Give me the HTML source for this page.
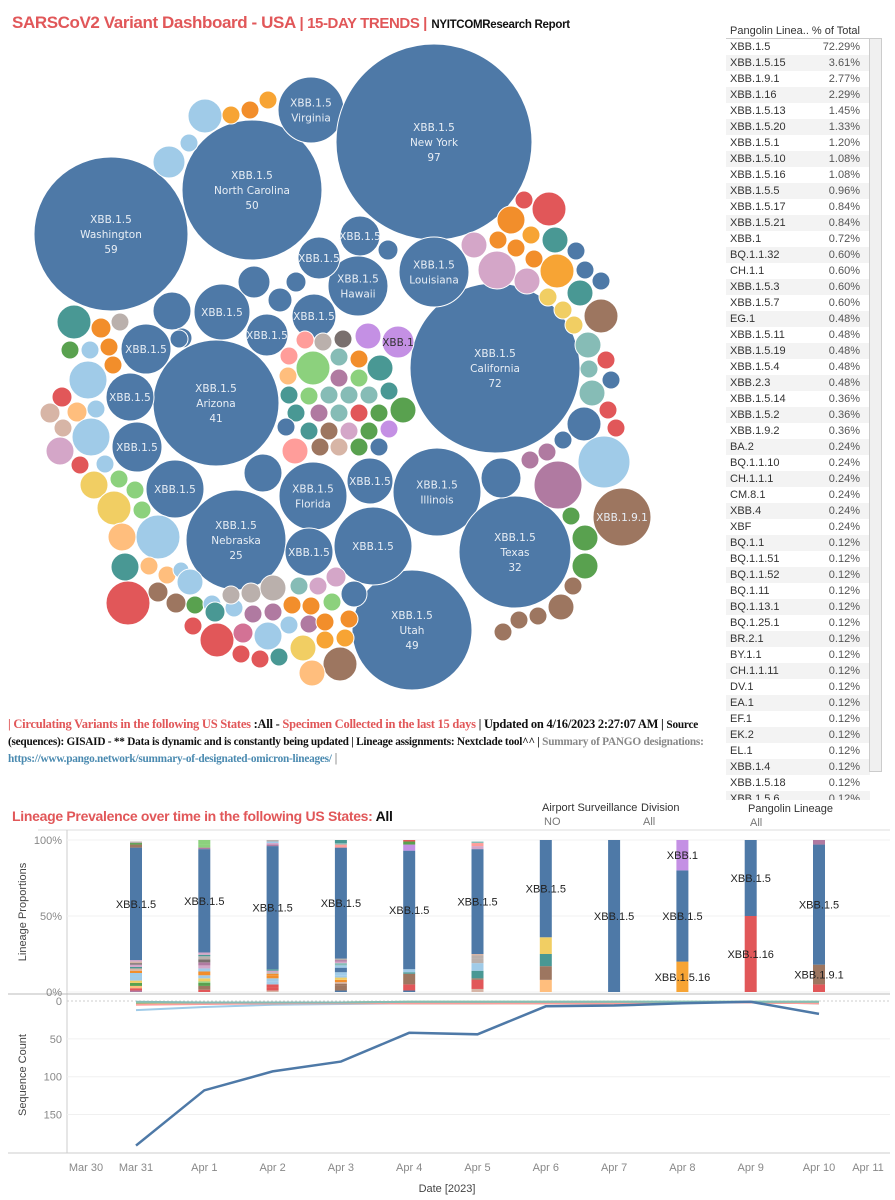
<!DOCTYPE html>
<html><head><meta charset="utf-8">
<style>
body{margin:0;width:895px;height:1200px;background:#fff;font-family:"Liberation Sans",sans-serif;position:relative;overflow:hidden}
.abs{position:absolute}
#title{left:12px;top:13px;font-size:17px;font-weight:bold;color:#e15759;white-space:nowrap;letter-spacing:-0.4px}
#title .small{font-size:15px}
#title .blk{color:#111;font-size:11.5px;letter-spacing:-0.3px}
#tbl{left:726px;top:24px;width:155px;font-size:11px;color:#333;height:776px;overflow:hidden}
.row{height:16px;line-height:16px;display:flex;justify-content:space-between;padding:0 10px 0 4px;width:130px}
.row:nth-child(even){background:#f3f3f3}
.row span:last-child{color:#555}
#info{left:8px;top:716px;width:730px;font-family:"Liberation Serif",serif;font-weight:bold;font-size:12.5px;line-height:16px;color:#111;letter-spacing:-0.25px;white-space:nowrap}
.red{color:#e15759}.gr{color:#888}
a{color:#4a8ab0}
.flab{font-size:11px;color:#333}
.fval{font-size:11px;color:#777}
</style></head><body>
<div id="title" class="abs">SARSCoV2 Variant Dashboard - USA <span class="small">| 15-DAY TRENDS |</span> <span class="blk">NYITCOMResearch Report</span></div>

<svg id="bubbles" class="abs" style="left:0;top:0" width="720" height="700"></svg>

<div id="tbl" class="abs">
<div style="display:flex;justify-content:space-between;width:130px;padding:0 10px 0 4px;height:14px;line-height:14px;border-bottom:1px solid #ccc"><span>Pangolin Linea..</span><span>% of Total</span></div>
<div id="rows"></div>
</div>
<div class="abs" style="left:869px;top:38px;width:11px;height:732px;background:#f0f0f0;border:1px solid #ccc"></div>

<div id="info" class="abs"><span class="red">| Circulating Variants in the following US States</span> :All - <span class="red">Specimen Collected in the last 15 days</span> | Updated on 4/16/2023 2:27:07 AM | <span style="font-size:11.3px">Source</span><br><span style="font-size:11.3px">(sequences): GISAID - ** Data is dynamic and is constantly being updated | Lineage assignments: Nextclade tool^^ | <span class="gr">Summary of PANGO designations:</span></span><br><a style="font-size:11.3px">https://www.pango.network/summary-of-designated-omicron-lineages/</a> <span class="gr">|</span></div>

<div class="abs" style="left:12px;top:808px;font-size:14px;font-weight:bold;color:#e15759;letter-spacing:-0.3px">Lineage Prevalence over time in the following US States: <span style="color:#111">All</span></div>
<div class="abs flab" style="left:542px;top:802px">Airport Surveillance</div>
<div class="abs fval" style="left:544px;top:816px">NO</div>
<div class="abs flab" style="left:641px;top:802px">Division</div>
<div class="abs fval" style="left:643px;top:816px">All</div>
<div class="abs flab" style="left:748px;top:803px">Pangolin Lineage</div>
<div class="abs fval" style="left:750px;top:817px">All</div>

<svg id="charts" class="abs" style="left:0;top:0" width="895" height="1200"></svg>

<script>
const tableNames=["XBB.1.5","XBB.1.5.15","XBB.1.9.1","XBB.1.16","XBB.1.5.13","XBB.1.5.20","XBB.1.5.1","XBB.1.5.10","XBB.1.5.16","XBB.1.5.5","XBB.1.5.17","XBB.1.5.21","XBB.1","BQ.1.1.32","CH.1.1","XBB.1.5.3","XBB.1.5.7","EG.1","XBB.1.5.11","XBB.1.5.19","XBB.1.5.4","XBB.2.3","XBB.1.5.14","XBB.1.5.2","XBB.1.9.2","BA.2","BQ.1.1.10","CH.1.1.1","CM.8.1","XBB.4","XBF","BQ.1.1","BQ.1.1.51","BQ.1.1.52","BQ.1.11","BQ.1.13.1","BQ.1.25.1","BR.2.1","BY.1.1","CH.1.1.11","DV.1","EA.1","EF.1","EK.2","EL.1","XBB.1.4","XBB.1.5.18","XBB.1.5.6"];
const tablePct=["72.29%","3.61%","2.77%","2.29%","1.45%","1.33%","1.20%","1.08%","1.08%","0.96%","0.84%","0.84%","0.72%","0.60%","0.60%","0.60%","0.60%","0.48%","0.48%","0.48%","0.48%","0.48%","0.36%","0.36%","0.36%","0.24%","0.24%","0.24%","0.24%","0.24%","0.24%","0.12%","0.12%","0.12%","0.12%","0.12%","0.12%","0.12%","0.12%","0.12%","0.12%","0.12%","0.12%","0.12%","0.12%","0.12%","0.12%","0.12%"];
const rowsEl=document.getElementById('rows');
tableNames.forEach((n,i)=>{
  const r=document.createElement('div');r.className='row';
  
  
  r.innerHTML='<span>'+n+'</span><span>'+tablePct[i]+'</span>';
  rowsEl.appendChild(r);
});
</script>

<script>
const C={b:"#4e79a7",lb:"#a0cbe8",o:"#f28e2b",lo:"#ffbe7d",g:"#59a14f",lg:"#8cd17d",y:"#f1ce63",t:"#499894",lt:"#86bcb6",r:"#e15759",lr:"#ff9d9a",gy:"#79706e",lgy:"#bab0ac",p:"#d37295",m:"#b07aa1",lm:"#d4a6c8",br:"#9d7660",lbr:"#d7b5a6",li:"#c490e4",oy:"#f7a434"};
const bubbleX=[111,252,311,434,495,434,358,216,437,515,412,236,313,222,267,314,146,130,137,175,370,373,309,360,319,254,280,296,172,182,263,501,388,179,
74,101,120,70,90,109,113,88,62,50,77,96,63,91,60,80,105,94,119,135,114,142,122,158,125,149,167,181,190,128,158,176,195,212,215,193,217,243,268,241,260,279,234,253,273,289,309,231,251,273,299,318,336,332,292,311,325,349,325,345,303,340,312,354,
305,323,343,368,398,289,313,339,359,380,288,339,359,289,309,329,349,369,389,403,296,319,339,359,379,286,309,329,349,369,389,295,320,339,359,379,
524,549,511,474,498,516,531,534,555,576,497,527,557,585,601,580,548,563,601,574,588,606,589,611,592,608,616,584,563,604,530,547,558,622,571,585,585,573,561,538,519,503,
205,231,250,268,189,169];
const bubbleY=[234,190,110,142,368,272,286,403,492,552,630,540,496,312,335,316,349,397,447,489,481,546,552,236,258,282,300,282,311,338,473,478,250,339,
322,328,322,350,350,347,365,380,397,413,412,409,428,437,451,465,464,485,479,490,508,510,537,537,567,566,575,570,582,603,592,603,605,604,612,626,640,633,636,654,659,657,608,614,612,625,624,595,593,588,586,586,577,602,605,606,622,619,640,638,648,664,673,594,
340,342,339,336,342,356,368,357,359,368,376,378,378,395,396,395,395,395,391,410,413,413,413,413,413,427,431,431,431,431,429,451,447,447,447,447,
200,209,220,245,240,248,235,259,240,251,270,281,271,270,281,293,297,310,316,325,345,360,369,380,393,410,428,424,440,462,460,452,485,517,516,538,566,586,607,616,620,632,
116,115,110,100,143,162];
const bubbleR=[77,70,33,98,85,35,30,63,44,56,60,50,34,28,21,22,25,24,25,29,23,39,24,20,21,16,12,10,19,10,19,20,10,9,
17,10,9,9,9,9,9,19,10,10,10,9,9,19,14,9,9,14,9,9,17,9,14,22,14,9,9,8,13,22,10,10,9,9,10,9,17,10,14,9,9,9,9,9,9,9,9,9,10,13,9,9,10,9,9,9,9,9,9,9,13,17,13,13,
9,9,9,13,16,9,17,9,9,13,9,9,9,9,9,9,9,9,9,13,9,9,9,9,9,9,9,9,9,9,9,13,9,9,9,9,
9,17,14,13,9,9,9,9,13,9,19,13,17,9,9,13,9,9,17,9,13,9,9,9,13,9,9,17,9,26,9,9,24,29,9,13,13,9,13,9,9,9,
17,9,9,9,9,16];
const bubbleCol=["b","b","b","b","b","b","b","b","b","b","b","b","b","b","b","b","b","b","b","b","b","b","b","b","b","b","b","b","b","b","b","b","b","b",
"t","o","lgy","g","lb","o","o","lb","r","lbr","lo","lb","lbr","lb","lm","r","lb","y","lg","lg","y","lg","lo","lb","t","lo","lo","lb","lb","r","br","br","g","lb","t","r","r","p","lb","r","r","t","lb","m","m","lb","m","lgy","lgy","lgy","lt","lm","lm","lg","o","o","o","o","oy","oy","y","br","lo","b",
"lr","lgy","gy","li","li","lr","lg","lt","o","t","lo","m","lg","t","lg","lt","lt","lt","t","g","t","m","lt","r","g","b","t","br","lm","g","li","lr","br","lbr","g","b",
"r","r","o","lm","o","o","oy","o","t","b","lm","lm","oy","b","b","t","y","y","br","y","lt","r","lt","b","lt","r","r","b","b","lb","m","m","m","br","g","g","g","br","br","br","br","br",
"lb","oy","o","oy","lb","lb"];
const bubbleLabel={0:["XBB.1.5","Washington","59"],1:["XBB.1.5","North Carolina","50"],2:["XBB.1.5","Virginia"],3:["XBB.1.5","New York","97"],4:["XBB.1.5","California","72"],5:["XBB.1.5","Louisiana"],6:["XBB.1.5","Hawaii"],7:["XBB.1.5","Arizona","41"],8:["XBB.1.5","Illinois"],9:["XBB.1.5","Texas","32"],10:["XBB.1.5","Utah","49"],11:["XBB.1.5","Nebraska","25"],12:["XBB.1.5","Florida"],13:["XBB.1.5"],14:["XBB.1.5"],15:["XBB.1.5"],16:["XBB.1.5"],17:["XBB.1.5"],18:["XBB.1.5"],19:["XBB.1.5"],20:["XBB.1.5"],21:["XBB.1.5"],22:["XBB.1.5"],23:["XBB.1.5"],24:["XBB.1.5"]};
bubbleLabel[bubbleX.findIndex((x,i)=>x==398&&bubbleY[i]==342)]=["XBB.1"];
bubbleLabel[bubbleX.findIndex((x,i)=>x==622&&bubbleY[i]==517)]=["XBB.1.9.1"];
const NS="http://www.w3.org/2000/svg";
const bs=document.getElementById('bubbles');
bubbleX.forEach((x,i)=>{
  const c=document.createElementNS(NS,'circle');
  c.setAttribute('cx',x);c.setAttribute('cy',bubbleY[i]);c.setAttribute('r',bubbleR[i]);
  c.setAttribute('fill',C[bubbleCol[i]]);c.setAttribute('stroke','#fff');c.setAttribute('stroke-width','1');
  
  
  bs.appendChild(c);
});
bubbleX.forEach((x,i)=>{
  const L=bubbleLabel[i];
  if(L){
    const lh=15,y0=bubbleY[i]-(L.length-1)*lh/2+4;
    L.forEach((s,k)=>{
      const t=document.createElementNS(NS,'text');
      t.setAttribute('x',x);t.setAttribute('y',y0+k*lh);t.setAttribute('text-anchor','middle');
      t.setAttribute('font-size','10.5');t.setAttribute('fill',s=="XBB.1"?'#333':'#e8eef5');
      t.setAttribute('font-family','DejaVu Sans, sans-serif');
      t.textContent=s;
      
      
      bs.appendChild(t);
    });
  }
});
</script>

<script>
const dateLabels=["Mar 30","Mar 31","Apr 1","Apr 2","Apr 3","Apr 4","Apr 5","Apr 6","Apr 7","Apr 8","Apr 9","Apr 10","Apr 11"];
const barSegs=[
 [["m",1],["r",1.5],["lo",1.5],["g",2],["y",1.5],["lb",3],["lb",2],["o",1.5],["lbr",1.5],["t",1],["lm",1.5],["gy",1],["lbr",1],["lm",1],["b",74],["br",2],["g",1],["lgy",1]],
 [["r",1.5],["br",2.5],["g",2],["lg",1],["y",2],["lb",2],["o",2.5],["lb",2],["lm",2],["m",2],["gy",2],["lgy",2],["t",1],["lm",1.5],["b",68],["m",1],["lg",2],["lg",3]],
 [["lbr",1],["r",2],["r",2],["lb",2],["lb",2],["o",2],["o",1],["lgy",1],["lm",1],["t",1],["b",81],["m",1],["lm",1],["lb",1],["lgy",1]],
 [["b",1],["br",3],["br",1.5],["lbr",1],["o",1.5],["y",1.5],["lb",1.5],["lb",2],["b",3],["lb",1.5],["lt",1.5],["lm",1],["m",1],["lgy",1],["b",73],["lr",2],["lt",1],["t",2]],
 [["b",1],["r",4],["br",7],["t",1],["lb",2],["b",78],["li",4],["g",2],["r",1]],
 [["lbr",2],["r",6],["br",1],["t",5],["lb",5],["lgy",3],["lgy",2],["lbr",1],["b",69],["lm",2],["lr",2],["lt",1]],
 [["lo",8],["br",9],["t",8],["y",11],["b",64]],
 [["b",100]],
 [["oy",20],["b",60],["li",20]],
 [["r",50],["b",50]],
 [["r",5],["br",13],["b",79],["m",3]]
];
const barLabels=[
 [[14,"XBB.1.5"]],[[14,"XBB.1.5"]],[[10,"XBB.1.5"]],[[14,"XBB.1.5"]],[[5,"XBB.1.5"]],[[8,"XBB.1.5"]],[[4,"XBB.1.5"]],[[0,"XBB.1.5"]],
 [[0,"XBB.1.5.16"],[1,"XBB.1.5"],[2,"XBB.1"]],[[0,"XBB.1.16"],[1,"XBB.1.5"]],[[1,"XBB.1.9.1"],[2,"XBB.1.5"]]
];
const seqMain=[191,118,93,80,42,44,7,6,3,1,17];
const seqLB=[12,8,5,4,3,3,2,2,2,1,3];
const seqPink=[5,4,3,3,3,3,3,3,2,2,3];
const seqGreen=[2,2,2,2,1,1,1,1,1,1,1];
const seqTeal=[1,2,2,2,1,1,1,1,1,1,1];
const seqBrown=[3,3,3,2,3,3,3,3,2,2,3];
const pctTicks=[0,50,100];
const cntTicks=[0,50,100,150];

const sv=document.getElementById('charts');
function el(tag,attrs,name,inter,txt){
  const e=document.createElementNS(NS,tag);
  for(const k in attrs)e.setAttribute(k,attrs[k]);
  
  
  if(txt!==undefined)e.textContent=txt;
  sv.appendChild(e);return e;
}
const xDay=d=>136+68.3*d;
const yPct=p=>992-1.52*p;
const yCnt=v=>1001+0.757*v;

el('line',{x1:38,y1:830,x2:890,y2:830,stroke:'#ddd'},'chart-top-border','false');
el('line',{x1:67,y1:830,x2:67,y2:1153,stroke:'#ccc'},'y-axis-line','false');
el('line',{x1:8,y1:1153,x2:890,y2:1153,stroke:'#ccc'},'x-axis-line','false');
el('line',{x1:8,y1:994,x2:890,y2:994,stroke:'#bbb'},'panel-divider','false');
pctTicks.forEach(p=>{
  el('line',{x1:67,y1:yPct(p),x2:890,y2:yPct(p),stroke:'#f0f0f0'},'pct-gridline','false');
  el('text',{x:62,y:yPct(p)+4,'text-anchor':'end','font-size':11,fill:'#888'},'pct-tick-label','false',p+'%');
});
cntTicks.forEach(v=>{
  el('line',{x1:67,y1:yCnt(v),x2:890,y2:yCnt(v),stroke:v==0?'#ccc':'#f0f0f0','stroke-dasharray':v==0?'2,2':''},'count-gridline','false');
  el('text',{x:62,y:yCnt(v)+4,'text-anchor':'end','font-size':11,fill:'#888'},'count-tick-label','false',String(v));
});
el('text',{x:26,y:912,transform:'rotate(-90 26 912)','text-anchor':'middle','font-size':11,fill:'#444'},'y-axis-title-proportions','false','Lineage Proportions');
el('text',{x:26,y:1075,transform:'rotate(-90 26 1075)','text-anchor':'middle','font-size':11,fill:'#444'},'y-axis-title-count','false','Sequence Count');

barSegs.forEach((segs,d)=>{
  let acc=0;const mids=[];
  segs.forEach(([c,p])=>{
    const y1=yPct(acc+p),y0=yPct(acc);
    el('rect',{x:xDay(d)-6,y:y1,width:12,height:Math.max(0.5,y0-y1),fill:C[c]},'bar-segment','true');
    mids.push(acc+p/2);acc+=p;
  });
  barLabels[d].forEach(([i,t])=>{
    el('text',{x:xDay(d),y:yPct(mids[i])+4,'text-anchor':'middle','font-size':11,fill:'#222'},'bar-label','false',t);
  });
});

function line(arr,col,w,name){
  el('polyline',{points:arr.map((v,i)=>xDay(i)+','+yCnt(v)).join(' '),fill:'none',stroke:col,'stroke-width':w},name,'true');
}
line(seqLB,C.lb,2,'line-series-lightblue');
line(seqBrown,C.br,2,'line-series-brown');
line(seqPink,C.lr,2,'line-series-pink');
line(seqGreen,C.lg,2,'line-series-green');
line(seqTeal,C.lt,2,'line-series-teal');
line(seqMain,C.b,2.5,'line-series-xbb-1-5');

dateLabels.forEach((t,i)=>{
  const x=i==0?86:(i==12?868:xDay(i-1));
  el('text',{x:x,y:1171,'text-anchor':'middle','font-size':11,fill:'#888'},'x-tick-label','false',t);
});
el('text',{x:447,y:1192,'text-anchor':'middle','font-size':11,fill:'#444'},'x-axis-title','false','Date [2023]');
</script>
</body></html>
